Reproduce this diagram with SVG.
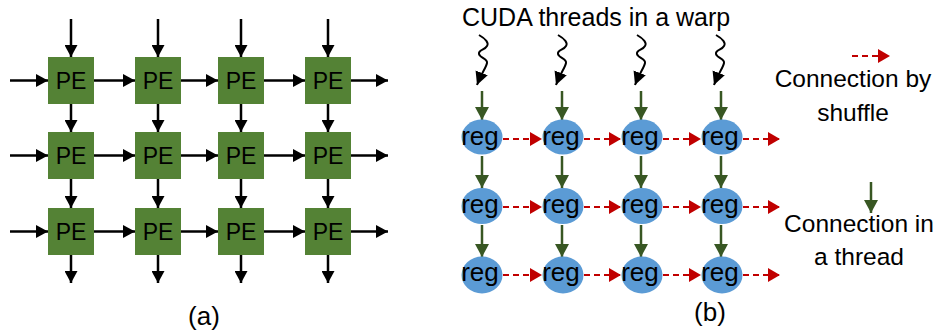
<svg xmlns="http://www.w3.org/2000/svg" width="939" height="333" viewBox="0 0 939 333">
<defs>
<marker id="ah" markerUnits="userSpaceOnUse" markerWidth="13" markerHeight="13" refX="12" refY="6.5" orient="auto"><path d="M0,0 L12,6.5 L0,13 z" fill="#000"/></marker>
<marker id="ahr" markerUnits="userSpaceOnUse" markerWidth="13" markerHeight="14" refX="12" refY="7" orient="auto"><path d="M0,0 L12,7 L0,14 z" fill="#c00000"/></marker>
<marker id="ahg" markerUnits="userSpaceOnUse" markerWidth="14" markerHeight="14" refX="13" refY="7" orient="auto"><path d="M0,0 L13,7 L0,14 z" fill="#385723"/></marker>
<marker id="ahw" markerUnits="userSpaceOnUse" markerWidth="14" markerHeight="14" refX="13" refY="6.5" orient="auto"><path d="M0,0 L13,6.5 L0,13 z" fill="#000"/></marker>
</defs>
<style>
.pe{fill:#548235}
.reg{fill:#5b9bd5}
.t{font-family:"Liberation Sans",Arial,sans-serif;fill:#000}
.blk{stroke:#000;stroke-width:2.5;fill:none;marker-end:url(#ah)}
.red{stroke:#c00000;stroke-width:2;stroke-dasharray:6,4;fill:none;marker-end:url(#ahr)}
.grn{stroke:#385723;stroke-width:2.5;fill:none;marker-end:url(#ahg)}
.wav{stroke:#000;stroke-width:2;fill:none;marker-end:url(#ahw)}
</style>
<rect width="939" height="333" fill="#fff"/>

<g id="connectors">
<!-- panel a vertical -->
<line class="blk" x1="71" y1="19" x2="71" y2="57"/><line class="blk" x1="158" y1="19" x2="158" y2="57"/><line class="blk" x1="241" y1="19" x2="241" y2="57"/><line class="blk" x1="328" y1="19" x2="328" y2="57"/>
<line class="blk" x1="71" y1="104" x2="71" y2="132"/><line class="blk" x1="158" y1="104" x2="158" y2="132"/><line class="blk" x1="241" y1="104" x2="241" y2="132"/><line class="blk" x1="328" y1="104" x2="328" y2="132"/>
<line class="blk" x1="71" y1="179" x2="71" y2="208"/><line class="blk" x1="158" y1="179" x2="158" y2="208"/><line class="blk" x1="241" y1="179" x2="241" y2="208"/><line class="blk" x1="328" y1="179" x2="328" y2="208"/>
<line class="blk" x1="71" y1="255" x2="71" y2="283"/><line class="blk" x1="158" y1="255" x2="158" y2="283"/><line class="blk" x1="241" y1="255" x2="241" y2="283"/><line class="blk" x1="328" y1="255" x2="328" y2="283"/>
<!-- panel a horizontal -->
<line class="blk" x1="10" y1="80.5" x2="48" y2="80.5"/><line class="blk" x1="94" y1="80.5" x2="135" y2="80.5"/><line class="blk" x1="181" y1="80.5" x2="218" y2="80.5"/><line class="blk" x1="264" y1="80.5" x2="305" y2="80.5"/><line class="blk" x1="351" y1="80.5" x2="388" y2="80.5"/>
<line class="blk" x1="10" y1="155.5" x2="48" y2="155.5"/><line class="blk" x1="94" y1="155.5" x2="135" y2="155.5"/><line class="blk" x1="181" y1="155.5" x2="218" y2="155.5"/><line class="blk" x1="264" y1="155.5" x2="305" y2="155.5"/><line class="blk" x1="351" y1="155.5" x2="388" y2="155.5"/>
<line class="blk" x1="10" y1="231.5" x2="48" y2="231.5"/><line class="blk" x1="94" y1="231.5" x2="135" y2="231.5"/><line class="blk" x1="181" y1="231.5" x2="218" y2="231.5"/><line class="blk" x1="264" y1="231.5" x2="305" y2="231.5"/><line class="blk" x1="351" y1="231.5" x2="388" y2="231.5"/>
<!-- wavy thread arrows -->
<path class="wav" d="M479,35 C486,39 489,43 487,46 C485,50 478,50 479,54 C480,58 488,59 487,63 C486,68 482,72 477,85"/>
<path class="wav" d="M558,35 C565,39 568,43 566,46 C564,50 557,50 558,54 C559,58 567,59 566,63 C565,68 561,72 556,85"/>
<path class="wav" d="M637,35 C644,39 647,43 645,46 C643,50 636,50 637,54 C638,58 646,59 645,63 C644,68 640,72 635,85"/>
<path class="wav" d="M716,35 C723,39 726,43 724,46 C722,50 715,50 716,54 C717,58 725,59 724,63 C723,68 719,72 714,85"/>
<!-- green in-thread arrows -->
<line class="grn" x1="482" y1="91" x2="482" y2="120"/><line class="grn" x1="562" y1="91" x2="562" y2="120"/><line class="grn" x1="641" y1="91" x2="641" y2="120"/><line class="grn" x1="721" y1="91" x2="721" y2="120"/>
<line class="grn" x1="482" y1="156" x2="482" y2="188"/><line class="grn" x1="562" y1="156" x2="562" y2="188"/><line class="grn" x1="641" y1="156" x2="641" y2="188"/><line class="grn" x1="721" y1="156" x2="721" y2="188"/>
<line class="grn" x1="482" y1="225" x2="482" y2="257"/><line class="grn" x1="562" y1="225" x2="562" y2="257"/><line class="grn" x1="641" y1="225" x2="641" y2="257"/><line class="grn" x1="721" y1="225" x2="721" y2="257"/>
<!-- red shuffle arrows -->
<line class="red" x1="503" y1="139" x2="542" y2="139"/><line class="red" x1="584" y1="139" x2="621" y2="139"/><line class="red" x1="663" y1="139" x2="701" y2="139"/><line class="red" x1="743" y1="139" x2="780" y2="139"/>
<line class="red" x1="503" y1="207" x2="542" y2="207"/><line class="red" x1="584" y1="207" x2="621" y2="207"/><line class="red" x1="663" y1="207" x2="701" y2="207"/><line class="red" x1="743" y1="207" x2="780" y2="207"/>
<line class="red" x1="503" y1="275" x2="542" y2="275"/><line class="red" x1="584" y1="275" x2="621" y2="275"/><line class="red" x1="663" y1="275" x2="701" y2="275"/><line class="red" x1="743" y1="275" x2="780" y2="275"/>
<!-- legend -->
<line class="red" x1="852" y1="56" x2="890" y2="56"/>
<line class="grn" x1="871" y1="182" x2="871" y2="213"/>
</g>

<g id="pe-nodes">
<g id="pe11"><rect class="pe" x="48" y="57" width="46" height="47"/><text class="t" x="71" y="89" font-size="23" text-anchor="middle">PE</text></g>
<g id="pe12"><rect class="pe" x="135" y="57" width="46" height="47"/><text class="t" x="158" y="89" font-size="23" text-anchor="middle">PE</text></g>
<g id="pe13"><rect class="pe" x="218" y="57" width="46" height="47"/><text class="t" x="241" y="89" font-size="23" text-anchor="middle">PE</text></g>
<g id="pe14"><rect class="pe" x="305" y="57" width="46" height="47"/><text class="t" x="328" y="89" font-size="23" text-anchor="middle">PE</text></g>
<g id="pe21"><rect class="pe" x="48" y="132" width="46" height="47"/><text class="t" x="71" y="164" font-size="23" text-anchor="middle">PE</text></g>
<g id="pe22"><rect class="pe" x="135" y="132" width="46" height="47"/><text class="t" x="158" y="164" font-size="23" text-anchor="middle">PE</text></g>
<g id="pe23"><rect class="pe" x="218" y="132" width="46" height="47"/><text class="t" x="241" y="164" font-size="23" text-anchor="middle">PE</text></g>
<g id="pe24"><rect class="pe" x="305" y="132" width="46" height="47"/><text class="t" x="328" y="164" font-size="23" text-anchor="middle">PE</text></g>
<g id="pe31"><rect class="pe" x="48" y="208" width="46" height="47"/><text class="t" x="71" y="240" font-size="23" text-anchor="middle">PE</text></g>
<g id="pe32"><rect class="pe" x="135" y="208" width="46" height="47"/><text class="t" x="158" y="240" font-size="23" text-anchor="middle">PE</text></g>
<g id="pe33"><rect class="pe" x="218" y="208" width="46" height="47"/><text class="t" x="241" y="240" font-size="23" text-anchor="middle">PE</text></g>
<g id="pe34"><rect class="pe" x="305" y="208" width="46" height="47"/><text class="t" x="328" y="240" font-size="23" text-anchor="middle">PE</text></g>
</g>

<g id="reg-nodes">
<g id="r11"><ellipse class="reg" cx="482" cy="137" rx="20.5" ry="17.5"/><text class="t" x="480" y="145" font-size="26" text-anchor="middle">reg</text></g>
<g id="r12"><ellipse class="reg" cx="563" cy="137" rx="20.5" ry="17.5"/><text class="t" x="561" y="145" font-size="26" text-anchor="middle">reg</text></g>
<g id="r13"><ellipse class="reg" cx="642" cy="137" rx="20.5" ry="17.5"/><text class="t" x="640" y="145" font-size="26" text-anchor="middle">reg</text></g>
<g id="r14"><ellipse class="reg" cx="722" cy="137" rx="20.5" ry="17.5"/><text class="t" x="720" y="145" font-size="26" text-anchor="middle">reg</text></g>
<g id="r21"><ellipse class="reg" cx="482" cy="206" rx="20.5" ry="18"/><text class="t" x="480" y="213" font-size="26" text-anchor="middle">reg</text></g>
<g id="r22"><ellipse class="reg" cx="563" cy="206" rx="20.5" ry="18"/><text class="t" x="561" y="213" font-size="26" text-anchor="middle">reg</text></g>
<g id="r23"><ellipse class="reg" cx="642" cy="206" rx="20.5" ry="18"/><text class="t" x="640" y="213" font-size="26" text-anchor="middle">reg</text></g>
<g id="r24"><ellipse class="reg" cx="722" cy="206" rx="20.5" ry="18"/><text class="t" x="720" y="213" font-size="26" text-anchor="middle">reg</text></g>
<g id="r31"><ellipse class="reg" cx="482" cy="275" rx="20.5" ry="18.5"/><text class="t" x="480" y="281" font-size="26" text-anchor="middle">reg</text></g>
<g id="r32"><ellipse class="reg" cx="563" cy="275" rx="20.5" ry="18.5"/><text class="t" x="561" y="281" font-size="26" text-anchor="middle">reg</text></g>
<g id="r33"><ellipse class="reg" cx="642" cy="275" rx="20.5" ry="18.5"/><text class="t" x="640" y="281" font-size="26" text-anchor="middle">reg</text></g>
<g id="r34"><ellipse class="reg" cx="722" cy="275" rx="20.5" ry="18.5"/><text class="t" x="720" y="281" font-size="26" text-anchor="middle">reg</text></g>
</g>

<g id="labels">
<text class="t" x="462" y="26" font-size="25">CUDA threads in a warp</text>
<text class="t" x="853" y="87" font-size="24.5" text-anchor="middle">Connection by</text>
<text class="t" x="853" y="121" font-size="24.5" text-anchor="middle">shuffle</text>
<text class="t" x="859" y="232" font-size="24.5" text-anchor="middle">Connection in</text>
<text class="t" x="859" y="265" font-size="24.5" text-anchor="middle">a thread</text>
<text class="t" x="204" y="325" font-size="26" text-anchor="middle">(a)</text>
<text class="t" x="710" y="321" font-size="26" text-anchor="middle">(b)</text>
</g>
</svg>
